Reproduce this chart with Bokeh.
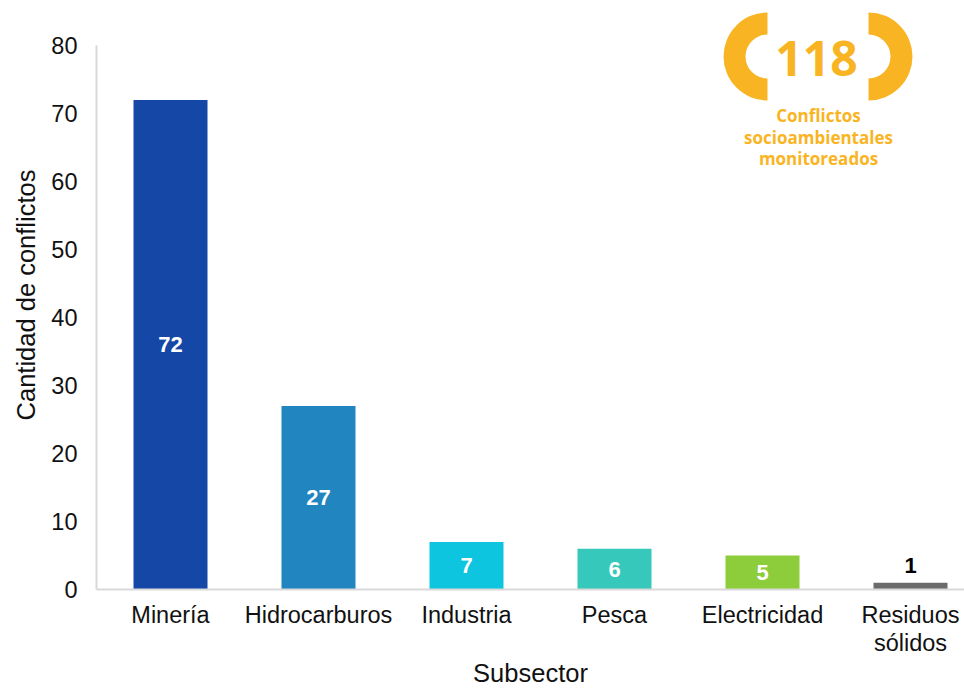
import math
from bokeh.plotting import figure
from bokeh.models import ColumnDataSource, Range1d, FixedTicker, Label
from bokeh.core.properties import value
from bokeh.embed import file_html
from bokeh.resources import INLINE

# ---- data ----
categories = ["Minería", "Hidrocarburos", "Industria", "Pesca", "Electricidad", "Residuos\nsólidos"]
counts = [72, 27, 7, 6, 5, 1]
colors = ["#1548A6", "#2185C0", "#0DC5DE", "#36C9BB", "#8DCC3B", "#6B6B6B"]
y_ticks = [0, 10, 20, 30, 40, 50, 60, 70, 80]
x_title = "Subsector"
y_title = "Cantidad de conflictos"
total_label = "118"
total_caption = ["Conflictos", "socioambientales", "monitoreados"]

FONT = "Liberation Sans"
GOLD = "#F9B424"

W, H = 964, 690
LEFT = 96          # frame left (px)
BOTTOM = 101       # border below frame (px)
FRAME_W = W - LEFT
FRAME_H = H - BOTTOM
CAT_PX = 148.0
PX_PER_UNIT = 6.8
x_end = -0.5 + FRAME_W / CAT_PX
y_end = FRAME_H / PX_PER_UNIT

xs = list(range(len(categories)))
inside = [c >= 3 for c in counts]
label_y = [c / 2 if ins else c for c, ins in zip(counts, inside)]
label_off = [0 if ins else -17 for ins in inside]
label_col = ["white" if ins else "black" for ins in inside]
src = ColumnDataSource(dict(x=xs, top=counts, color=colors,
                            ly=label_y, lt=[str(c) for c in counts],
                            loff=label_off, lc=label_col))

p = figure(width=W, height=H, output_backend="svg", toolbar_location=None,
           x_range=Range1d(-0.5, x_end), y_range=Range1d(0, y_end),
           min_border_left=LEFT, min_border_right=0, min_border_top=0,
           min_border_bottom=BOTTOM)
p.outline_line_color = None
p.xgrid.visible = False
p.ygrid.visible = False
p.background_fill_color = "white"
p.border_fill_color = "white"

p.vbar(x="x", top="top", bottom=0, width=0.5, color="color", line_color=None, source=src)
p.text(x="x", y="ly", text="lt", y_offset="loff", text_color="lc",
       text_font=value(FONT), text_font_style="bold", text_font_size="22px",
       text_align="center", text_baseline="middle", source=src)

# axes
p.xaxis.ticker = FixedTicker(ticks=xs)
p.xaxis.major_label_overrides = {i: c for i, c in zip(xs, categories)}
p.yaxis.ticker = FixedTicker(ticks=y_ticks)
p.yaxis.bounds = (0, 80)
for ax in (p.xaxis[0], p.yaxis[0]):
    ax.axis_line_color = "#D9D9D9"
    ax.axis_line_width = 2
    ax.major_tick_line_color = None
    ax.minor_tick_line_color = None
    ax.major_label_text_font = FONT
    ax.major_label_text_font_size = "23.5px"
    ax.major_label_text_color = "#111111"
    ax.axis_label_text_font = FONT
    ax.axis_label_text_font_size = "25.5px"
    ax.axis_label_text_font_style = "normal"
    ax.axis_label_text_color = "#111111"
p.xaxis.major_label_text_line_height = 1.1
p.xaxis.axis_label_text_line_height = 1.0
p.xaxis.axis_label = x_title
p.yaxis.axis_label = y_title
p.xaxis.major_label_standoff = 6
p.xaxis.axis_label_standoff = 0
p.yaxis.major_label_standoff = 13
p.yaxis.axis_label_standoff = 8

def dx(px):
    return -0.5 + (px - LEFT) / CAT_PX
def dy(py):
    return (FRAME_H - py) / PX_PER_UNIT

# ---- badge (decoration) ----
p.annular_wedge(x=[dx(767)], y=[dy(56)], inner_radius=22, outer_radius=44,
                inner_radius_units="screen", outer_radius_units="screen",
                start_angle=math.pi / 2, end_angle=3 * math.pi / 2,
                color=GOLD, line_color=None)
p.annular_wedge(x=[dx(868)], y=[dy(56)], inner_radius=22, outer_radius=44,
                inner_radius_units="screen", outer_radius_units="screen",
                start_angle=-math.pi / 2, end_angle=math.pi / 2,
                color=GOLD, line_color=None)
p.add_layout(Label(x=dx(816), y=dy(58), text=total_label, text_font="Open Sans",
                   text_font_style="bold", text_font_size="48px", text_color=GOLD,
                   text_align="center", text_baseline="middle"))
for i, t in enumerate(total_caption):
    p.add_layout(Label(x=dx(818), y=dy(115 + 21.5 * i), text=t, text_font="Open Sans",
                       text_font_style="bold", text_font_size="17px", text_color=GOLD,
                       text_align="center", text_baseline="middle"))

open("out.html", "w").write(file_html(p, INLINE))
